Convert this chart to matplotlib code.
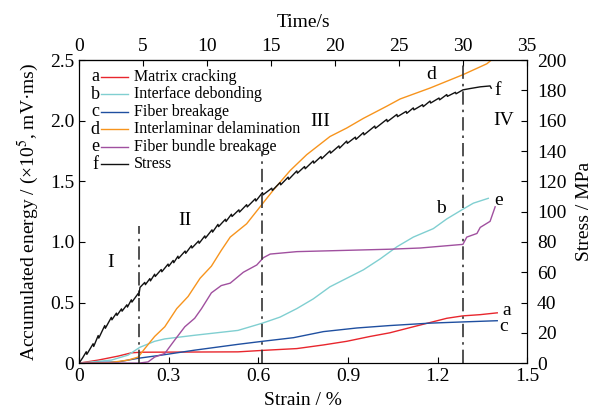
import numpy as np
import matplotlib.pyplot as plt

plt.rcParams['font.family'] = ['Liberation Serif', 'DejaVu Serif']
plt.rcParams['mathtext.fontset'] = 'stix'

# energy curves (strain %, accumulated energy x1e5 mV*ms)
a_strain = [0, 0.064, 0.131, 0.175, 0.209, 0.532, 0.614, 0.729, 0.818, 0.896, 0.974, 1.04, 1.119, 1.231, 1.285, 1.343, 1.40]
a_energy = [0, 0.025, 0.058, 0.085, 0.09, 0.093, 0.105, 0.12, 0.15, 0.18, 0.22, 0.25, 0.30, 0.37, 0.39, 0.40, 0.415]

b_strain = [0, 0.108, 0.164, 0.203, 0.253, 0.287, 0.387, 0.532, 0.614, 0.673, 0.729, 0.784, 0.84, 0.896, 0.952, 1.008, 1.064, 1.119, 1.186, 1.231, 1.285, 1.32, 1.37]
b_energy = [0, 0.025, 0.066, 0.13, 0.18, 0.20, 0.23, 0.27, 0.33, 0.38, 0.45, 0.53, 0.63, 0.70, 0.77, 0.86, 0.96, 1.04, 1.11, 1.19, 1.27, 1.32, 1.36]

c_strain = [0, 0.131, 0.198, 0.276, 0.387, 0.532, 0.614, 0.718, 0.818, 0.93, 1.04, 1.175, 1.285, 1.40]
c_energy = [0, 0.01, 0.04, 0.066, 0.107, 0.155, 0.18, 0.21, 0.26, 0.29, 0.31, 0.33, 0.34, 0.35]

d_strain = [0, 0.10, 0.164, 0.198, 0.22, 0.253, 0.287, 0.327, 0.365, 0.405, 0.443, 0.476, 0.506, 0.561, 0.606, 0.651, 0.707, 0.762, 0.84, 0.896, 0.952, 1.03, 1.075, 1.175, 1.285, 1.365, 1.385]
d_energy = [0, 0.003, 0.025, 0.05, 0.12, 0.22, 0.30, 0.45, 0.55, 0.70, 0.80, 0.93, 1.04, 1.15, 1.29, 1.43, 1.59, 1.72, 1.87, 1.94, 2.02, 2.12, 2.18, 2.27, 2.38, 2.47, 2.51]

e_strain = [0, 0.20, 0.231, 0.253, 0.287, 0.32, 0.354, 0.387, 0.41, 0.443, 0.476, 0.506, 0.55, 0.595, 0.617, 0.64, 0.729, 1.04, 1.142, 1.285, 1.298, 1.332, 1.343, 1.376, 1.393]
e_energy = [0, 0.0, 0.01, 0.05, 0.08, 0.19, 0.30, 0.37, 0.45, 0.58, 0.64, 0.66, 0.75, 0.81, 0.87, 0.90, 0.92, 0.94, 0.95, 0.98, 1.04, 1.07, 1.12, 1.17, 1.29]

# stress curve (strain %, MPa), jagged
stress_pts = [(0.0, 0), (0.012, 3.5), (0.024, 7.5), (0.026, 5.8), (0.047, 12.8), (0.049, 11),
              (0.064, 18.2), (0.066, 16.5), (0.086, 24.8), (0.088, 23), (0.108, 30.2), (0.11, 28.6),
              (0.125, 33), (0.127, 31.5), (0.142, 35.8), (0.144, 34.3), (0.16, 38.5), (0.162, 37),
              (0.175, 41.8), (0.177, 40.3), (0.198, 46), (0.2, 44.5), (0.204, 50), (0.22, 53.3),
              (0.222, 51.8), (0.237, 55.8), (0.239, 54.3), (0.253, 58.7), (0.255, 57.2), (0.275, 61.8),
              (0.277, 60.3), (0.298, 65.4), (0.3, 63.9), (0.315, 67.8), (0.317, 66.3), (0.331, 70.6),
              (0.333, 69.1), (0.355, 74), (0.357, 72.5), (0.376, 77.5), (0.378, 76), (0.40, 80.6),
              (0.402, 79.1), (0.421, 84), (0.423, 82.5), (0.445, 88), (0.447, 86.5), (0.465, 91.6),
              (0.467, 90.1), (0.49, 95), (0.492, 93.5), (0.51, 98.3), (0.512, 96.8), (0.535, 101.2),
              (0.537, 99.7), (0.561, 104.6), (0.563, 103.1), (0.59, 108.5), (0.592, 107), (0.614, 112.6),
              (0.616, 111.1), (0.645, 115.5), (0.647, 114), (0.673, 119.2), (0.675, 117.7), (0.70, 122.8),
              (0.702, 121.3), (0.729, 126.9), (0.731, 125.4), (0.755, 129.8), (0.757, 128.3), (0.784, 133.5),
              (0.786, 132), (0.81, 136.4), (0.812, 134.9), (0.84, 140.1), (0.842, 138.6), (0.87, 143.4),
              (0.872, 141.9), (0.896, 146.6), (0.898, 145.1), (0.925, 149.2), (0.927, 147.7), (0.952, 152.2),
              (0.954, 150.7), (0.99, 156.5), (0.992, 155), (1.03, 160.9), (1.032, 159.4), (1.064, 164.2),
              (1.066, 162.7), (1.095, 166.2), (1.097, 164.9), (1.119, 168.5), (1.121, 167.2), (1.15, 170.6),
              (1.152, 169.3), (1.175, 173), (1.177, 171.7), (1.205, 175), (1.207, 173.8), (1.231, 177.3),
              (1.233, 176.1), (1.26, 178.8), (1.262, 177.8), (1.285, 180.4), (1.31, 181.3), (1.343, 182.4),
              (1.376, 183), (1.38, 181.5)]

letters = ['a', 'b', 'c', 'd', 'e', 'f']
names = ['Matrix cracking', 'Interface debonding', 'Fiber breakage',
         'Interlaminar delamination', 'Fiber bundle breakage', 'Stress']
colors = ['#e8262d', '#80cfd1', '#1f4fa0', '#f7941d', '#a0509f', '#111111']

stage_lines = [0.2, 0.614, 1.285]
stage_tops = [1.13, 1.75, 2.5]
stages = ['I', 'II', 'III', 'IV']
stage_pos = [(0.107, 0.83), (0.355, 1.18), (0.807, 1.99), (1.42, 2.0)]

fig, ax = plt.subplots(figsize=(5.99, 4.15), dpi=100)
fig.subplots_adjust(left=0.132, right=0.88, bottom=0.125, top=0.855)
ax2 = ax.twinx()

energy = [(a_strain, a_energy), (b_strain, b_energy), (c_strain, c_energy),
          (d_strain, d_energy), (e_strain, e_energy)]
for (xs, ys), col in zip(energy, colors):
    ax.plot(xs, ys, color=col, lw=1.0)

sx, sy = zip(*stress_pts)
ax2.plot(sx, sy, color=colors[5], lw=1.0)

for xv, top in zip(stage_lines, stage_tops):
    ax.plot([xv, xv], [0, top], color='#333333', lw=1.2, ls=(0, (8, 3, 1.5, 3)))

for s, (xp, yp) in zip(stages, stage_pos):
    ax.text(xp, yp, s, fontsize=14, ha='center', va='center')

# curve end labels
ax.text(1.43, 0.435, 'a', fontsize=14, ha='center', va='center')
ax.text(1.42, 0.30, 'c', fontsize=14, ha='center', va='center')
ax.text(1.21, 1.28, 'b', fontsize=14, ha='center', va='center')
ax.text(1.405, 1.34, 'e', fontsize=14, ha='center', va='center')
ax.text(1.18, 2.38, 'd', fontsize=14, ha='center', va='center')
ax.text(1.40, 2.25, 'f', fontsize=14, ha='center', va='center')

# hand-made legend
for i, (let, nm, col) in enumerate(zip(letters, names, colors)):
    yy = 0.945 - i * 0.0578
    ax.text(0.036, yy, let, transform=ax.transAxes, fontsize=13, ha='center', va='center')
    ax.plot([0.048, 0.11], [yy, yy], transform=ax.transAxes, color=col, lw=1.0)
    ax.text(0.123, yy, nm, transform=ax.transAxes, fontsize=11.5, ha='left', va='center')

ax.set_xlim(0, 1.5)
ax.set_ylim(0, 2.5)
ax2.set_ylim(0, 200)
ax.set_xticks([0, 0.3, 0.6, 0.9, 1.2, 1.5])
ax.set_xticklabels(['0', '0.3', '0.6', '0.9', '1.2', '1.5'])
ax.set_yticks([0, 0.5, 1.0, 1.5, 2.0, 2.5])
ax.set_yticklabels(['0', '0.5', '1.0', '1.5', '2.0', '2.5'])
ax2.set_yticks(np.arange(0, 201, 20))

ax.tick_params(direction='in', length=4, labelsize=14)
ax2.tick_params(direction='in', length=4, labelsize=14, pad=7)

secax = ax.secondary_xaxis('top', functions=(lambda s: s * 35 / 1.5, lambda t: t * 1.5 / 35))
secax.set_xticks(range(0, 36, 5))
secax.tick_params(direction='in', length=4, labelsize=14)
secax.set_xlabel('Time/s', fontsize=14, labelpad=8)

ax.set_xlabel('Strain / %', fontsize=14, labelpad=5)
ax.set_ylabel('Accumulated energy / (×10$^5$, mV·ms)', fontsize=14, labelpad=6)
ax2.set_ylabel('Stress / MPa', fontsize=14, labelpad=7)

fig.savefig('out.png', dpi=100)
